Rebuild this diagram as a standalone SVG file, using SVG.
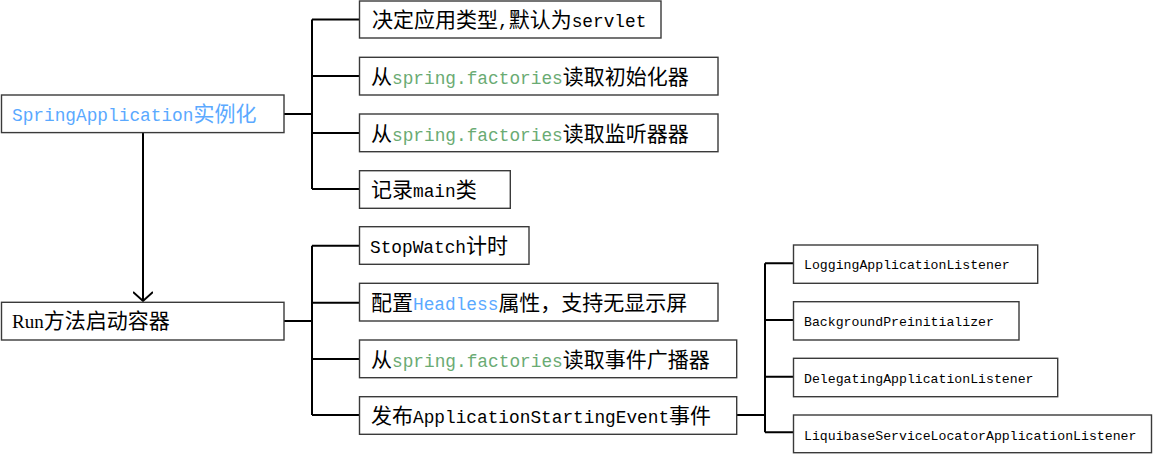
<svg xmlns="http://www.w3.org/2000/svg" width="1153" height="454" viewBox="0 0 1153 454">
<style>
.box{fill:#fff;stroke:#3a3a3a;stroke-width:1.4}
.ln{fill:none;stroke:#000;stroke-width:2}
.t{font-size:21px;fill:#000;font-family:"Noto Sans CJK SC",sans-serif}
.cn{font-family:"Noto Sans CJK SC",sans-serif;font-size:21px}
.mo{font-family:"Liberation Mono",monospace;font-size:17.8px}
.se{font-family:"Liberation Serif",serif;font-size:19px}
.sm{font-family:"Liberation Mono",monospace;font-size:13.2px;fill:#000}
.blue{fill:#5aa9ff}
.green{fill:#6aab73}
</style>
<defs>
<marker id="arr" viewBox="0 0 20 20" refX="10" refY="10" markerWidth="20" markerHeight="20" markerUnits="userSpaceOnUse" orient="auto">
<path d="M1,0 L10,10 L1,20" fill="none" stroke="#000" stroke-width="2"/>
</marker>
</defs>
<g id="connectors">
<path class="ln" d="M284,114 H312 M312,19.5 V189 M312,19.5 H359 M312,76 H359 M312,133 H359 M312,189 H359"/>
<path class="ln" d="M143,133 V301" marker-end="url(#arr)"/>
<path class="ln" d="M284,321 H312 M312,245.7 V415 M312,245.7 H359 M312,302.7 H359 M312,359 H359 M312,415 H359"/>
<path class="ln" d="M737,415 H765 M765,263.3 V432.3 M765,263.3 H793 M765,320 H793 M765,376.7 H793 M765,432.3 H793"/>
</g>
<g id="n-springapp">
<rect class="box" x="1.5" y="95" width="282.5" height="37.6"/>
<text class="t" x="12" y="121"><tspan class="mo blue">SpringApplication</tspan><tspan class="cn blue">实例化</tspan></text>
</g>
<g id="n-run">
<rect class="box" x="1.5" y="302.3" width="282.5" height="37.7"/>
<text class="t" x="12" y="328"><tspan class="se">Run</tspan><tspan class="cn">方法启动容器</tspan></text>
</g>
<g id="n-type">
<rect class="box" x="359.5" y="1" width="301.5" height="37"/>
<text class="t" x="372" y="27"><tspan class="cn">决定应用类型</tspan><tspan class="mo">,</tspan><tspan class="cn">默认为</tspan><tspan class="mo">servlet</tspan></text>
</g>
<g id="n-init">
<rect class="box" x="359.5" y="57.3" width="358.5" height="37.7"/>
<text class="t" x="371" y="83.5"><tspan class="cn">从</tspan><tspan class="mo green">spring.factories</tspan><tspan class="cn">读取初始化器</tspan></text>
</g>
<g id="n-listener">
<rect class="box" x="359.5" y="114" width="358.5" height="37.7"/>
<text class="t" x="371" y="140.5"><tspan class="cn">从</tspan><tspan class="mo green">spring.factories</tspan><tspan class="cn">读取监听器器</tspan></text>
</g>
<g id="n-main">
<rect class="box" x="359.5" y="170.7" width="150.8" height="37.6"/>
<text class="t" x="371" y="197"><tspan class="cn">记录</tspan><tspan class="mo">main</tspan><tspan class="cn">类</tspan></text>
</g>
<g id="n-stopwatch">
<rect class="box" x="359.5" y="226.7" width="169.5" height="37.6"/>
<text class="t" x="370" y="253"><tspan class="mo">StopWatch</tspan><tspan class="cn">计时</tspan></text>
</g>
<g id="n-headless">
<rect class="box" x="359.5" y="283.3" width="358.5" height="37.7"/>
<text class="t" x="371" y="310"><tspan class="cn">配置</tspan><tspan class="mo blue">Headless</tspan><tspan class="cn">属性，支持无显示屏</tspan></text>
</g>
<g id="n-broadcaster">
<rect class="box" x="359.5" y="340" width="377.2" height="37.7"/>
<text class="t" x="371" y="366.5"><tspan class="cn">从</tspan><tspan class="mo green">spring.factories</tspan><tspan class="cn">读取事件广播器</tspan></text>
</g>
<g id="n-publish">
<rect class="box" x="359.5" y="396.7" width="377.2" height="37.6"/>
<text class="t" x="371" y="423"><tspan class="cn">发布</tspan><tspan class="mo">ApplicationStartingEvent</tspan><tspan class="cn">事件</tspan></text>
</g>
<g id="n-logging">
<rect class="box" x="793.5" y="245" width="244.2" height="38.3"/>
<text class="sm" x="804" y="269">LoggingApplicationListener</text>
</g>
<g id="n-background">
<rect class="box" x="793.5" y="301.7" width="225.5" height="38.3"/>
<text class="sm" x="804" y="326">BackgroundPreinitializer</text>
</g>
<g id="n-delegating">
<rect class="box" x="793.5" y="358.3" width="264.2" height="38.4"/>
<text class="sm" x="804" y="383">DelegatingApplicationListener</text>
</g>
<g id="n-liquibase">
<rect class="box" x="793.5" y="415" width="358" height="37.7"/>
<text class="sm" x="804" y="439.5">LiquibaseServiceLocatorApplicationListener</text>
</g>
</svg>
